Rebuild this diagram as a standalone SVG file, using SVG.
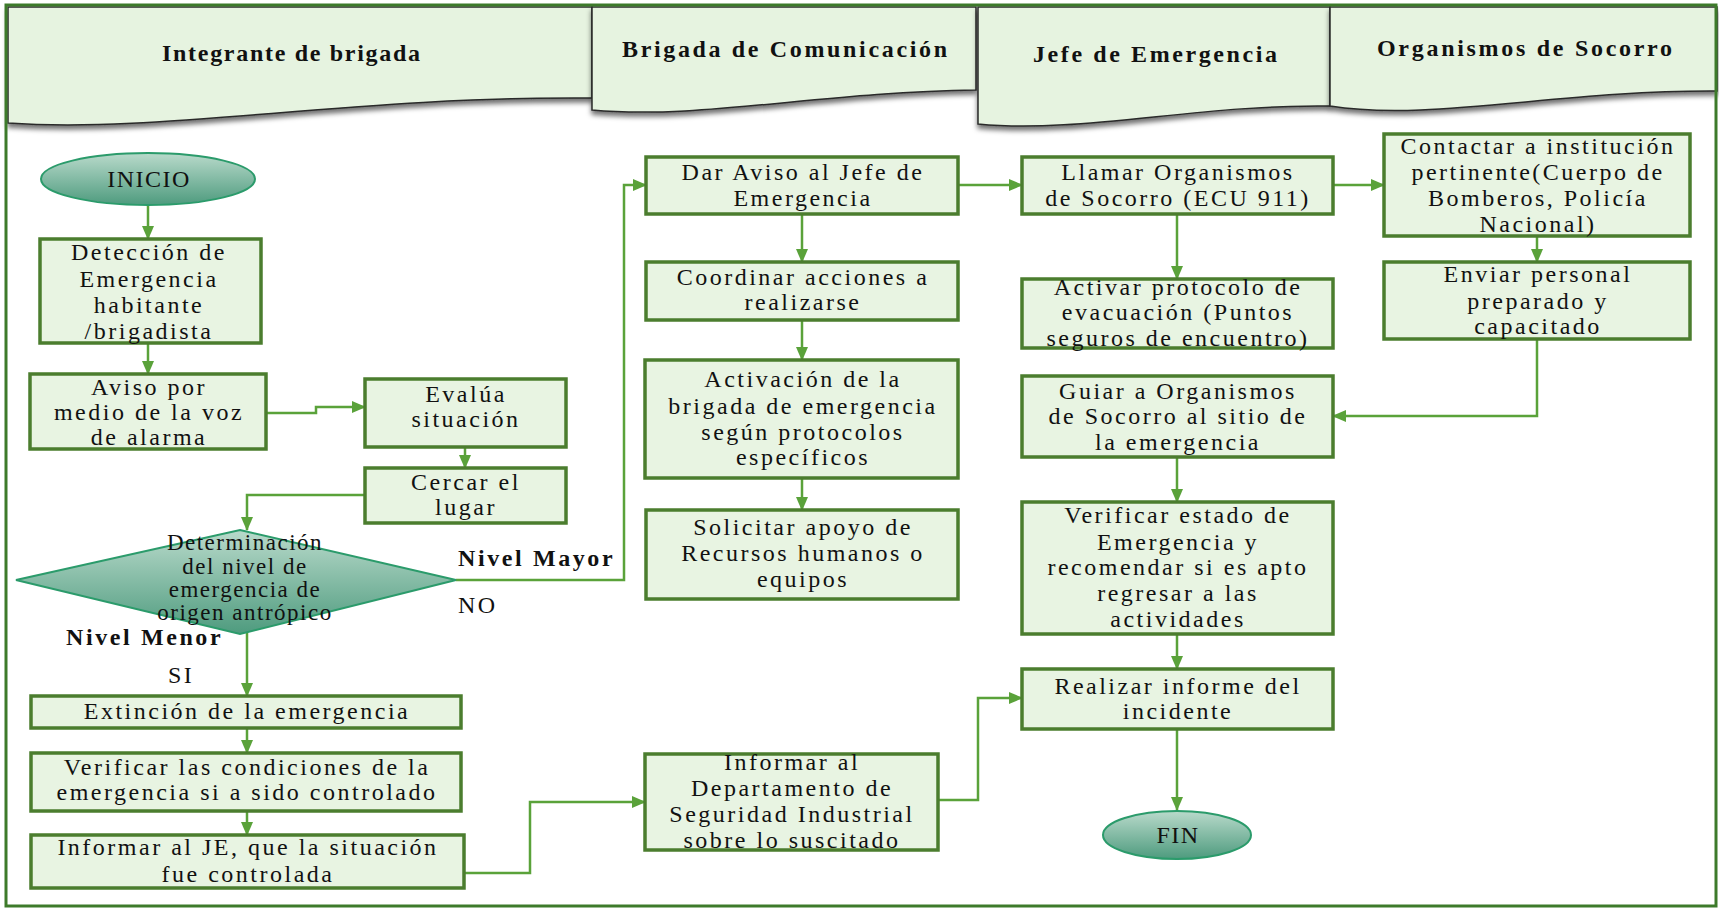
<svg xmlns="http://www.w3.org/2000/svg" width="1719" height="909" viewBox="0 0 1719 909">
<defs>
<style>
.box{fill:#E8F4E2;stroke:#4B7D2E;stroke-width:3.5}
.tab{fill:#E6F3E0;stroke:#2a2a2a;stroke-width:1.5}
.t{font-family:"Liberation Serif","Times New Roman",serif;font-size:24px;letter-spacing:2.5px;fill:#111;text-anchor:middle}
.d{font-family:"Liberation Serif","Times New Roman",serif;font-size:23px;letter-spacing:1.5px;fill:#111;text-anchor:middle}
.h{font-family:"Liberation Serif","Times New Roman",serif;font-size:24px;font-weight:bold;fill:#111}
.lb{font-family:"Liberation Serif","Times New Roman",serif;font-size:24px;font-weight:bold;letter-spacing:2.6px;fill:#111}
.lr{font-family:"Liberation Serif","Times New Roman",serif;font-size:24px;letter-spacing:2.5px;fill:#111}
.term{fill:url(#tg);stroke:#2B9B6B;stroke-width:2}
.c{fill:none;stroke:#5AA23A;stroke-width:2.5}
</style>
<linearGradient id="tg" x1="0" y1="0" x2="0" y2="1">
<stop offset="0" stop-color="#B9DACB"/>
<stop offset="1" stop-color="#4E9B7E"/>
</linearGradient>
<filter id="sh" x="-5%" y="-10%" width="110%" height="130%">
<feDropShadow dx="0" dy="4" stdDeviation="2.5" flood-color="#000" flood-opacity="0.55"/>
</filter>
<marker id="ar" viewBox="0 0 14 12" refX="13" refY="6" markerWidth="14" markerHeight="12" markerUnits="userSpaceOnUse" orient="auto">
<path d="M0,0 L14,6 L0,12 Z" fill="#5AA23A"/>
</marker>
</defs>
<rect width="1719" height="909" fill="#fff"/>

<g id="headers">
<g id="lane-integrante">
<path class="tab" filter="url(#sh)" d="M8,7 H592 V98 C350,96 160,134 8,123 Z"/>
<text class="h" x="162" y="61" textLength="258" lengthAdjust="spacing">Integrante de brigada</text>
</g>
<g id="lane-comunicacion">
<path class="tab" filter="url(#sh)" d="M592,7 H976 V90 C820,92 700,120 592,110 Z"/>
<text class="h" x="622" y="57" textLength="325" lengthAdjust="spacing">Brigada de Comunicación</text>
</g>
<g id="lane-jefe">
<path class="tab" filter="url(#sh)" d="M978,7 H1330 V106 C1200,104 1080,134 978,124 Z"/>
<text class="h" x="1033" y="62" textLength="244" lengthAdjust="spacing">Jefe de Emergencia</text>
</g>
<g id="lane-organismos">
<path class="tab" filter="url(#sh)" d="M1330,7 H1717 V91 C1560,90 1430,122 1330,106 Z"/>
<text class="h" x="1377" y="56" textLength="295" lengthAdjust="spacing">Organismos de Socorro</text>
</g>
</g>

<rect x="6" y="5" width="1710" height="901" fill="none" stroke="#3D7A2A" stroke-width="3"/>

<g id="connectors">
<path class="c" marker-end="url(#ar)" d="M148,205 V239"/>
<path class="c" marker-end="url(#ar)" d="M148,343 V374"/>
<path class="c" marker-end="url(#ar)" d="M266,413 H316 V407 H365"/>
<path class="c" marker-end="url(#ar)" d="M465,447 V468"/>
<path class="c" marker-end="url(#ar)" d="M365,495 H247 V530"/>
<path class="c" marker-end="url(#ar)" d="M247,632 V696"/>
<path class="c" marker-end="url(#ar)" d="M247,728 V753"/>
<path class="c" marker-end="url(#ar)" d="M247,811 V835"/>
<path class="c" marker-end="url(#ar)" d="M464,873 H530 V802 H645"/>
<path class="c" marker-end="url(#ar)" d="M456,580 H624 V185 H646"/>
<path class="c" marker-end="url(#ar)" d="M802,214 V262"/>
<path class="c" marker-end="url(#ar)" d="M802,320 V360"/>
<path class="c" marker-end="url(#ar)" d="M802,478 V510"/>
<path class="c" marker-end="url(#ar)" d="M958,185 H1022"/>
<path class="c" marker-end="url(#ar)" d="M1333,185 H1384"/>
<path class="c" marker-end="url(#ar)" d="M1177,214 V279"/>
<path class="c" marker-end="url(#ar)" d="M1537,236 V262"/>
<path class="c" marker-end="url(#ar)" d="M1537,339 V416 H1333"/>
<path class="c" marker-end="url(#ar)" d="M1177,457 V502"/>
<path class="c" marker-end="url(#ar)" d="M1177,634 V669"/>
<path class="c" marker-end="url(#ar)" d="M1177,729 V810"/>
<path class="c" marker-end="url(#ar)" d="M938,800 H978 V698 H1022"/>
</g>

<g id="labels">
<text class="lb" x="458" y="566">Nivel Mayor</text>
<text class="lr" x="458" y="613">NO</text>
<text class="lb" x="66" y="645">Nivel Menor</text>
<text class="lr" x="168" y="683">SI</text>
</g>

<g id="n-inicio">
<ellipse class="term" cx="148" cy="179" rx="107" ry="26"/>
<text class="t" x="149" y="187" style="letter-spacing:1.5px">INICIO</text>
</g>
<g id="n-deteccion">
<rect class="box" x="40" y="239" width="221" height="104"/>
<text class="t"><tspan x="149" y="260">Detección de</tspan><tspan x="149" y="287">Emergencia</tspan><tspan x="149" y="313">habitante</tspan><tspan x="149" y="339">/brigadista</tspan></text>
</g>
<g id="n-aviso">
<rect class="box" x="30" y="374" width="236" height="75"/>
<text class="t"><tspan x="149" y="395">Aviso por</tspan><tspan x="149" y="420">medio de la voz</tspan><tspan x="149" y="445">de alarma</tspan></text>
</g>
<g id="n-evalua">
<rect class="box" x="365" y="379" width="201" height="68"/>
<text class="t"><tspan x="466" y="402">Evalúa</tspan><tspan x="466" y="427">situación</tspan></text>
</g>
<g id="n-cercar">
<rect class="box" x="365" y="468" width="201" height="55"/>
<text class="t"><tspan x="466" y="490">Cercar el</tspan><tspan x="466" y="515">lugar</tspan></text>
</g>
<g id="n-decision">
<polygon class="term" points="240,530 456,580 240,634 16,580"/>
<text class="d"><tspan x="245" y="550">Determinación</tspan><tspan x="245" y="574">del nivel  de</tspan><tspan x="245" y="597">emergencia  de</tspan><tspan x="245" y="620">origen  antrópico</tspan></text>
</g>
<g id="n-extincion">
<rect class="box" x="31" y="696" width="430" height="32"/>
<text class="t" x="247" y="719">Extinción de la emergencia</text>
</g>
<g id="n-verificar-cond">
<rect class="box" x="31" y="753" width="430" height="58"/>
<text class="t"><tspan x="247" y="775">Verificar las condiciones de la</tspan><tspan x="247" y="800">emergencia  si a sido controlado</tspan></text>
</g>
<g id="n-informar-je">
<rect class="box" x="31" y="835" width="433" height="53"/>
<text class="t"><tspan x="248" y="855">Informar al JE, que la situación</tspan><tspan x="248" y="882">fue controlada</tspan></text>
</g>

<g id="n-dar-aviso">
<rect class="box" x="646" y="157" width="312" height="57"/>
<text class="t"><tspan x="803" y="180">Dar Aviso al Jefe de</tspan><tspan x="803" y="206">Emergencia</tspan></text>
</g>
<g id="n-coordinar">
<rect class="box" x="646" y="262" width="312" height="58"/>
<text class="t"><tspan x="803" y="285">Coordinar acciones a</tspan><tspan x="803" y="310">realizarse</tspan></text>
</g>
<g id="n-activacion">
<rect class="box" x="645" y="360" width="313" height="118"/>
<text class="t"><tspan x="803" y="387">Activación de la</tspan><tspan x="803" y="414">brigada de emergencia</tspan><tspan x="803" y="440">según protocolos</tspan><tspan x="803" y="465">específicos</tspan></text>
</g>
<g id="n-solicitar">
<rect class="box" x="646" y="510" width="312" height="89"/>
<text class="t"><tspan x="803" y="535">Solicitar apoyo de</tspan><tspan x="803" y="561">Recursos humanos o</tspan><tspan x="803" y="587">equipos</tspan></text>
</g>
<g id="n-informar-dept">
<rect class="box" x="645" y="754" width="293" height="96"/>
<text class="t"><tspan x="792" y="770">Informar al</tspan><tspan x="792" y="796">Departamento de</tspan><tspan x="792" y="822">Seguridad Industrial</tspan><tspan x="792" y="848">sobre lo suscitado</tspan></text>
</g>

<g id="n-llamar">
<rect class="box" x="1022" y="157" width="311" height="57"/>
<text class="t"><tspan x="1178" y="180">Llamar Organismos</tspan><tspan x="1178" y="206">de Socorro (ECU 911)</tspan></text>
</g>
<g id="n-activar-protocolo">
<rect class="box" x="1022" y="279" width="311" height="69"/>
<text class="t"><tspan x="1178" y="295">Activar protocolo de</tspan><tspan x="1178" y="320">evacuación (Puntos</tspan><tspan x="1178" y="346">seguros de encuentro)</tspan></text>
</g>
<g id="n-guiar">
<rect class="box" x="1022" y="376" width="311" height="81"/>
<text class="t"><tspan x="1178" y="399">Guiar a Organismos</tspan><tspan x="1178" y="424">de Socorro al sitio de</tspan><tspan x="1178" y="450">la emergencia</tspan></text>
</g>
<g id="n-verificar-estado">
<rect class="box" x="1022" y="502" width="311" height="132"/>
<text class="t"><tspan x="1178" y="523">Verificar estado de</tspan><tspan x="1178" y="550">Emergencia y</tspan><tspan x="1178" y="575">recomendar si es apto</tspan><tspan x="1178" y="601">regresar a las</tspan><tspan x="1178" y="627">actividades</tspan></text>
</g>
<g id="n-realizar">
<rect class="box" x="1022" y="669" width="311" height="60"/>
<text class="t"><tspan x="1178" y="694">Realizar informe del</tspan><tspan x="1178" y="719">incidente</tspan></text>
</g>
<g id="n-fin">
<ellipse class="term" cx="1177" cy="835" rx="74" ry="24"/>
<text class="t" x="1178" y="843" style="letter-spacing:1.5px">FIN</text>
</g>

<g id="n-contactar">
<rect class="box" x="1384" y="134" width="306" height="102"/>
<text class="t"><tspan x="1538" y="154">Contactar a institución</tspan><tspan x="1538" y="180">pertinente(Cuerpo de</tspan><tspan x="1538" y="206">Bomberos, Policía</tspan><tspan x="1538" y="232">Nacional)</tspan></text>
</g>
<g id="n-enviar">
<rect class="box" x="1384" y="262" width="306" height="77"/>
<text class="t"><tspan x="1538" y="282">Enviar personal</tspan><tspan x="1538" y="309">preparado  y</tspan><tspan x="1538" y="334">capacitado</tspan></text>
</g>
</svg>
